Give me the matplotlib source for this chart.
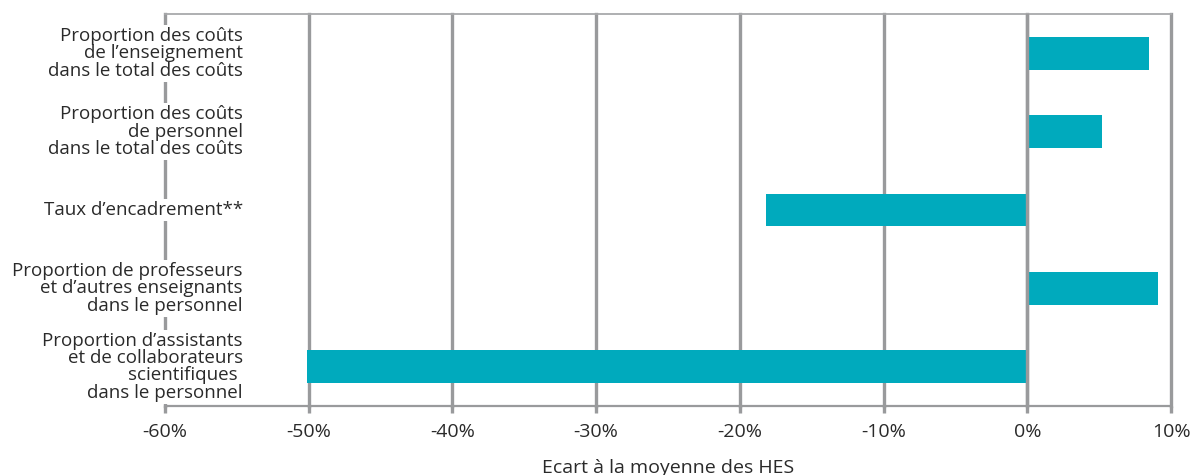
import matplotlib.pyplot as plt
from matplotlib.ticker import FuncFormatter

categories = [
    "Proportion des coûts\nde l\u2019enseignement\ndans le total des coûts",
    "Proportion des coûts\nde personnel\ndans le total des coûts",
    "Taux d\u2019encadrement**",
    "Proportion de professeurs\net d\u2019autres enseignants\ndans le personnel",
    "Proportion d\u2019assistants\net de collaborateurs\nscientifiques \ndans le personnel",
]
values = [8.5, 5.2, -18.2, 9.1, -50.1]
xticks = [-60, -50, -40, -30, -20, -10, 0, 10]

plt.rcParams['font.family'] = ['Open Sans', 'DejaVu Sans']

fig = plt.figure(figsize=(11.95, 4.75), dpi=100)
ax = fig.add_axes([165 / 1195, 69 / 475, 1006 / 1195, 392 / 475])

grey = '#999a9c'
pos = list(range(len(categories)))
ax.barh(pos, values, height=0.42, color='#00aabd', zorder=2)

ax.set_xlim(-60, 10)
ax.set_ylim(len(categories) - 0.5, -0.5)
ax.set_xticks(xticks)
ax.xaxis.set_major_formatter(FuncFormatter(lambda v, p: f"{v:.0f}%"))
ax.set_yticks([])
for x in xticks:
    ax.axvline(x, color=grey, lw=2.4, zorder=1, clip_on=False)
ax.axvline(0, color=grey, lw=2.4, zorder=3)

for side in ['left', 'right']:
    ax.spines[side].set_visible(False)
ax.spines['top'].set_color('#a8a9ab')
ax.spines['top'].set_linewidth(1.3)
ax.spines['bottom'].set_color(grey)
ax.spines['bottom'].set_linewidth(1.6)

ax.tick_params(axis='x', length=5, width=2.4, color=grey, pad=7,
               labelsize=14, labelcolor='#2a2a2a')

ax.set_xlabel("Ecart à la moyenne des HES", fontsize=14, color='#2a2a2a',
              labelpad=13)

trans = ax.get_yaxis_transform()
for y, lab in zip(pos, categories):
    ax.text(0.0775, y, lab, transform=trans, ha='right', va='center',
            fontsize=13.5, color='#2a2a2a', linespacing=0.95, zorder=5,
            bbox=dict(facecolor='white', edgecolor='none', pad=1.5))

fig.savefig('out.png', dpi=100)
